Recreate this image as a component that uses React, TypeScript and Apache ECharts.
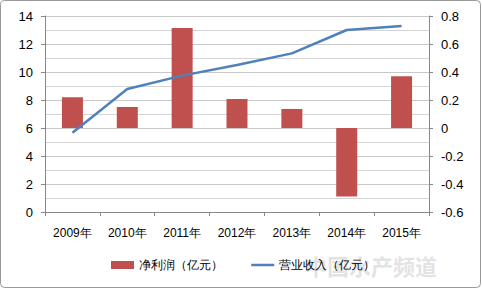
import React, { useEffect, useRef } from "react";
import * as echarts from "echarts";

const categories = ["2009年", "2010年", "2011年", "2012年", "2013年", "2014年", "2015年"];
const profit = [0.22, 0.15, 0.714, 0.207, 0.136, -0.49, 0.369];
const revenue = [5.66, 8.79, 9.74, 10.5, 11.33, 13.0, 13.29];
const profitName = "净利润（亿元）";
const revenueName = "营业收入（亿元）";

export default function App() {
  const ref = useRef<HTMLDivElement>(null);
  useEffect(() => {
    if (!ref.current) return;
    const chart = echarts.init(ref.current, null, { renderer: "svg" });
    const font = "Arial, 'Liberation Sans', sans-serif";
    chart.setOption({
      animation: false,
      textStyle: { fontFamily: font },
      grid: { left: 45, right: 53, top: 16, bottom: 77, containLabel: false },
      legend: {
        bottom: 13,
        left: 106,
        itemGap: 27,
        itemWidth: 23,
        itemHeight: 8,
        textStyle: { fontSize: 12, color: "#000", fontFamily: font },
        data: [
          { name: profitName, icon: "rect" },
          { name: revenueName, itemStyle: { opacity: 0 }, lineStyle: { width: 2.5, color: "#4F81BD" } },
        ],
      },
      xAxis: {
        type: "category",
        data: categories,
        axisLine: { lineStyle: { color: "#888" } },
        axisTick: { show: true, alignWithLabel: false, length: 4, lineStyle: { color: "#888" } },
        axisLabel: { color: "#000", fontSize: 12, margin: 15, fontFamily: font },
      },
      yAxis: [
        {
          type: "value",
          min: 0,
          max: 14,
          interval: 2,
          axisLine: { show: true, lineStyle: { color: "#888" } },
          axisTick: { show: true, length: 4, lineStyle: { color: "#888" } },
          axisLabel: { color: "#000", fontSize: 13, margin: 12, fontFamily: font },
          splitLine: { show: true, lineStyle: { color: "#c8c8c8" } },
          minorTick: { show: false, splitNumber: 2 },
          minorSplitLine: { show: true, lineStyle: { color: "#d4d4d4" } },
        },
        {
          type: "value",
          min: -0.6,
          max: 0.8,
          interval: 0.2,
          position: "right",
          axisLine: { show: true, lineStyle: { color: "#888" } },
          axisTick: { show: true, length: 4, inside: false, lineStyle: { color: "#888" } },
          axisLabel: {
            color: "#000",
            fontSize: 13,
            margin: 12,
            fontFamily: font,
            formatter: (v: number) => String(Math.round(v * 10) / 10),
          },
          splitLine: { show: false },
        },
      ],
      series: [
        {
          name: profitName,
          type: "bar",
          yAxisIndex: 1,
          data: profit,
          barWidth: 21,
          itemStyle: { color: "#C0504D" },
        },
        {
          name: revenueName,
          type: "line",
          yAxisIndex: 0,
          data: revenue,
          symbol: "none",
          lineStyle: { color: "#4F81BD", width: 2.5 },
          itemStyle: { color: "#4F81BD" },
        },
      ],
      graphic: [
        {
          type: "rect",
          shape: { x: 0.5, y: 0.5, width: 480, height: 287, r: 4 },
          style: { fill: "none", stroke: "#999", lineWidth: 1 },
          silent: true,
        },
        {
          type: "text",
          left: 305,
          top: 254,
          style: {
            text: "中国水产频道",
            fontSize: 22,
            fontWeight: "bold",
            fill: "rgba(200,200,200,0.5)",
            fontFamily: "'Noto Sans CJK SC', sans-serif",
          },
          silent: true,
        },
      ],
    });
    return () => chart.dispose();
  }, []);
  return <div ref={ref} style={{ width: 482, height: 289, position: "absolute", left: 0, top: 0 }} />;
}
